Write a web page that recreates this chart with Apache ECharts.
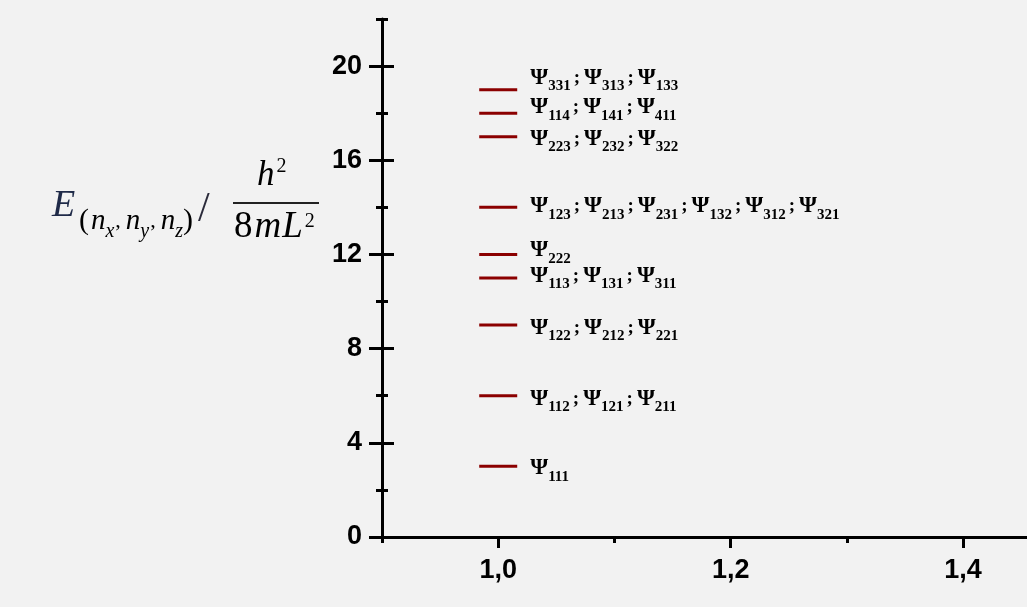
<!DOCTYPE html>
<html>
<head>
<meta charset="utf-8">
<script src="https://cdn.jsdelivr.net/npm/echarts@6/dist/echarts.min.js"></script>
<style>
html,body{margin:0;padding:0;background:#f2f2f2;}
#chart{width:1027px;height:607px;}
</style>
</head>
<body>
<div id="chart"></div>
<script>
// ---- data ----
const energyLevels = [3, 6, 9, 11, 12, 14, 17, 18, 19];
const levelX = 1.0;
const stateLabels = [
  ['111'],
  ['112', '121', '211'],
  ['122', '212', '221'],
  ['113', '131', '311'],
  ['222'],
  ['123', '213', '231', '132', '312', '321'],
  ['223', '232', '322'],
  ['114', '141', '411'],
  ['331', '313', '133']
];
const yMajorTicks = [0, 4, 8, 12, 16, 20];
const yMinorTicks = [2, 6, 10, 14, 18, 22];
const xMajorTicks = [1.0, 1.2, 1.4];
const xMinorTicks = [0.9, 1.1, 1.3];
const yRange = [0, 22];
const xRange = [0.9, 1.455];

// ---- layout (label dodge, in px, not data) ----
const labelNudgePx = [2, 3, 3, -2, -4, -1, 2, -6, -12];

// ---- chart ----
const chart = echarts.init(document.getElementById('chart'));

const labelRich = {
  psi: { fontFamily: 'Liberation Serif', fontWeight: 'bold', fontSize: 23, color: '#111', lineHeight: 24 },
  sub: { fontFamily: 'Liberation Serif', fontWeight: 'bold', fontSize: 15, color: '#111', lineHeight: 15, verticalAlign: 'bottom', padding: [0, 0, -4, 0] },
  semi: { fontFamily: 'Liberation Serif', fontWeight: 'bold', fontSize: 19, color: '#111', lineHeight: 24, padding: [0, 4, 0, 3] }
};

function stateText(codes) {
  return codes.map(c => '{psi|Ψ}{sub|' + c + '}').join('{semi|;}');
}

const tickFont = { fontFamily: 'Liberation Sans', fontWeight: 'bold', fontSize: 27, color: '#000' };
const axisLine = { show: true, lineStyle: { color: '#000', width: 3 } };

function yAxisDef(values, len, inside, withLine, withLabel) {
  return {
    type: 'value', min: yRange[0], max: yRange[1], interval: 2, position: 'left',
    axisLine: withLine ? axisLine : { show: false },
    axisTick: { show: true, inside: inside, length: len, customValues: values, lineStyle: { color: '#000', width: 3 } },
    axisLabel: withLabel ? Object.assign({ show: true, customValues: yMajorTicks, margin: 20 }, tickFont) : { show: false },
    splitLine: { show: false }
  };
}
function xAxisDef(values, len, withLine, withLabel) {
  return {
    type: 'value', min: xRange[0], max: xRange[1], interval: 0.1, position: 'bottom',
    axisLine: withLine ? axisLine : { show: false },
    axisTick: { show: true, inside: false, length: len, customValues: values, lineStyle: { color: '#000', width: 3 } },
    axisLabel: withLabel ? Object.assign({
      show: true, customValues: xMajorTicks, margin: 20,
      formatter: v => v.toFixed(1).replace('.', ',')
    }, tickFont) : { show: false },
    splitLine: { show: false }
  };
}

const titleNavy = '#1f2a48';
const titleParen = '#3c2f66';

const option = {
  backgroundColor: '#f2f2f2',
  animation: false,
  grid: { left: 382, right: 0, top: 19, bottom: 70, containLabel: false },
  xAxis: [
    xAxisDef(xMajorTicks, 11, true, true),
    xAxisDef(xMinorTicks, 6, false, false)
  ],
  yAxis: [
    yAxisDef(yMajorTicks, 13, false, true, true),
    yAxisDef(yMajorTicks, 12, true, false, false),
    yAxisDef(yMinorTicks, 6, false, false, false),
    yAxisDef(yMinorTicks, 6, true, false, false)
  ],
  graphic: [
    { type: 'text', left: 52, top: 187, style: { text: 'E', fontFamily: 'Liberation Serif', fontStyle: 'italic', fontSize: 38, fill: titleNavy } },
    {
      type: 'text', left: 79, top: 206,
      style: {
        text: '{p|(}{n|n}{s|x}{c|,}{n|n}{s|y}{c|,}{n|n}{s|z}{p|)}',
        rich: {
          p: { fontFamily: 'Liberation Serif', fontSize: 30, color: titleParen, lineHeight: 30 },
          n: { fontFamily: 'Liberation Serif', fontStyle: 'italic', fontSize: 29, color: titleNavy, lineHeight: 30, padding: [0, 0, 0, 2] },
          s: { fontFamily: 'Liberation Serif', fontStyle: 'italic', fontSize: 20, color: titleNavy, lineHeight: 20, verticalAlign: 'bottom', padding: [0, 0, -6, 0] },
          c: { fontFamily: 'Liberation Serif', fontSize: 22, color: titleParen, lineHeight: 30, padding: [0, 3, 0, 1] }
        }
      }
    },
    {
      type: 'text', left: 198, top: 189,
      style: { text: '/', fontFamily: 'Liberation Serif', fontSize: 42, fill: '#2a2a3a' }
    },
    {
      type: 'text', left: 257, top: 157,
      style: {
        text: '{h|h}{sup|2}',
        rich: {
          h: { fontFamily: 'Liberation Serif', fontStyle: 'italic', fontSize: 35, color: '#222', lineHeight: 38 },
          sup: { fontFamily: 'Liberation Serif', fontSize: 20, color: '#222', lineHeight: 20, verticalAlign: 'top', padding: [0, 0, 0, 2] }
        }
      }
    },
    {
      type: 'line', shape: { x1: 233, y1: 203, x2: 319, y2: 203 },
      style: { stroke: '#222', lineWidth: 2 }
    },
    {
      type: 'text', left: 234, top: 208,
      style: {
        text: '{d|8}{i|m}{i|L}{sup|2}',
        rich: {
          d: { fontFamily: 'Liberation Serif', fontSize: 37, color: '#222', lineHeight: 38, padding: [0, 2, 0, 0] },
          i: { fontFamily: 'Liberation Serif', fontStyle: 'italic', fontSize: 37, color: '#222', lineHeight: 38, padding: [0, 1, 0, 0] },
          sup: { fontFamily: 'Liberation Serif', fontSize: 20, color: '#222', lineHeight: 20, verticalAlign: 'top', padding: [4, 0, 0, 1] }
        }
      }
    }
  ],
  series: [{
    type: 'custom',
    xAxisIndex: 0, yAxisIndex: 0,
    data: energyLevels.map((e, i) => [levelX, e, i]),
    renderItem: function (params, api) {
      const p = api.coord([api.value(0), api.value(1)]);
      const idx = api.value(2);
      return {
        type: 'group',
        children: [
          { type: 'line', shape: { x1: p[0] - 19, y1: p[1], x2: p[0] + 19, y2: p[1] }, style: { stroke: '#8b0000', lineWidth: 3 } },
          { type: 'text', x: p[0] + 32, y: p[1] + labelNudgePx[idx], style: { text: stateText(stateLabels[idx]), rich: labelRich, align: 'left', verticalAlign: 'middle' } }
        ]
      };
    },
    silent: true
  }]
};
chart.setOption(option);
</script>
</body>
</html>
